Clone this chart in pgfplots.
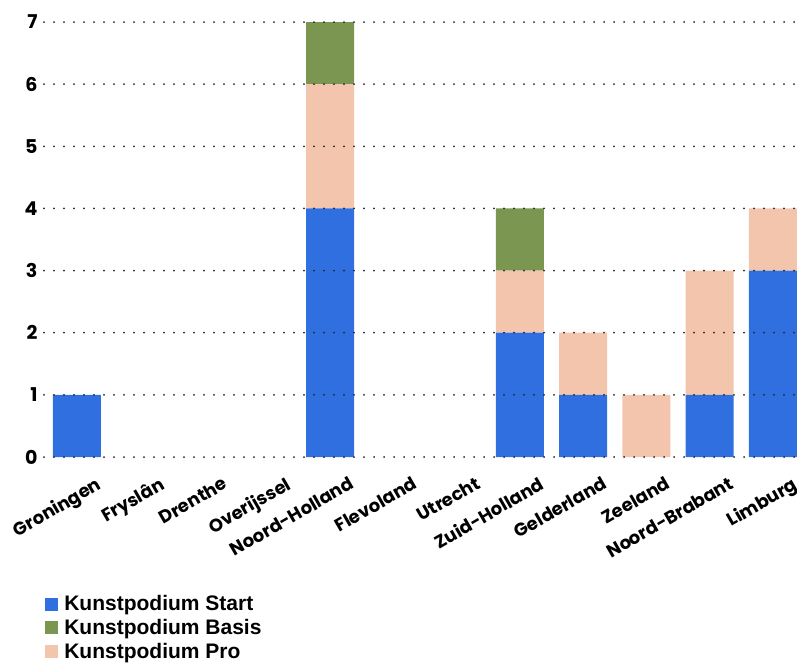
\documentclass[border=0pt]{standalone}
\usepackage{fontspec}
\setmainfont{Poppins}
\newfontfamily\legfont{Liberation Sans}
\usepackage{pgfplots}
\usepackage{pgfplotstable}
\pgfplotsset{compat=1.18}
\definecolor{cstart}{HTML}{2F6FDF}
\definecolor{cbasis}{HTML}{7A9650}
\definecolor{cpro}{HTML}{F4C5AD}
\pgfplotstableread{
x start pro basis
0 1 0 0
1 0 0 0
2 0 0 0
3 0 0 0
4 4 2 1
5 0 0 0
6 0 0 0
7 2 1 1
8 1 1 0
9 0 1 0
10 1 2 0
11 3 1 0
}\datatable
\begin{document}
\begin{tikzpicture}[x=1pt,y=1pt]
\path[use as bounding box] (0,0) rectangle (797,665);
\begin{axis}[
  at={(44pt,208pt)}, anchor=south west,
  scale only axis, width=753pt, height=435pt,
  ybar stacked, bar width=48pt,
  xmin=-0.52, xmax=11.38, ymin=0, ymax=7,
  xtick={0,...,11},
  xticklabels={Groningen,Fryslân,Drenthe,Overijssel,Noord-Holland,Flevoland,Utrecht,Zuid-Holland,Gelderland,Zeeland,Noord-Brabant,Limburg},
  ytick={0,...,7},
  /pgf/number format/assume math mode=true,
  ymajorgrids,
  grid style={black!85, line width=2pt, line cap=round, dash pattern=on 0pt off 10pt},
  axis line style={draw=none}, major tick length=0pt,
  axis on top,
  yticklabel style={font=\fontsize{19}{19}\selectfont\bfseries, xshift=-3pt},
  xticklabel style={font=\fontsize{18}{18}\selectfont\bfseries, rotate=30, anchor=north east, xshift=10pt, yshift=-22pt},
  legend image code/.code={\fill[#1] (0pt,-6pt) rectangle (12pt,6pt); \path (17pt,0pt);},
  legend style={at={(axis description cs:-0.003,-0.309)}, anchor=north west, draw=none,
    font=\legfont\bfseries\fontsize{21}{21}\selectfont, cells={anchor=west}, row sep=3pt},
]
\addplot[fill=cstart, draw=none, forget plot] table[x=x, y=start] {\datatable};
\addplot[fill=cpro, draw=none, forget plot] table[x=x, y=pro] {\datatable};
\addplot[fill=cbasis, draw=none, forget plot] table[x=x, y=basis] {\datatable};
\addlegendimage{cstart}
\addlegendentry{Kunstpodium Start}
\addlegendimage{cbasis}
\addlegendentry{Kunstpodium Basis}
\addlegendimage{cpro}
\addlegendentry{Kunstpodium Pro}
\end{axis}
\end{tikzpicture}
\end{document}
